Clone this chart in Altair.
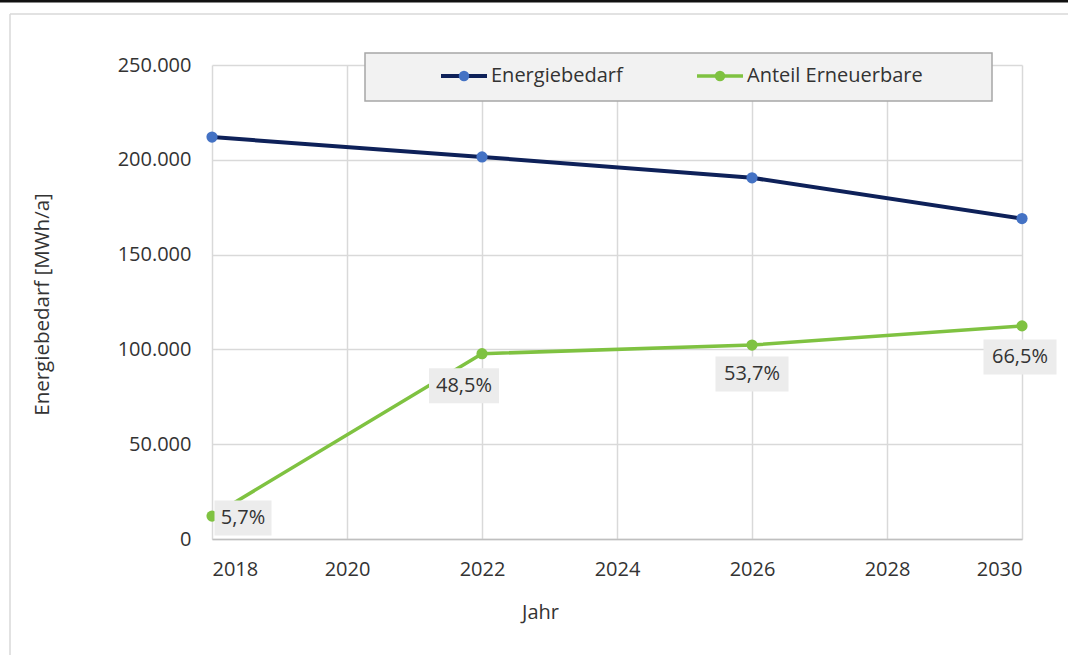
import altair as alt
import pandas as pd

# --- data -------------------------------------------------------------
years = [2018, 2022, 2026, 2030]
energiebedarf = [212000, 201500, 190500, 169000]       # MWh/a
anteil_prozent = [5.7, 48.5, 53.7, 66.5]               # share of renewables in %

series_names = ["Energiebedarf", "Anteil Erneuerbare"]
line_colors = ["#0e2159", "#7fc241"]
marker_colors = ["#4472c4", "#7fc241"]

y_ticks = [0, 50000, 100000, 150000, 200000, 250000]
x_ticks = [2018, 2020, 2022, 2024, 2026, 2028, 2030]

# renewable energy in MWh/a follows from demand and share
anteil_mwh = [b * p / 100 for b, p in zip(energiebedarf, anteil_prozent)]
anteil_text = [f"{p:.1f}".replace(".", ",") + "%" for p in anteil_prozent]

df = pd.DataFrame({
    "Jahr": years * 2,
    "Wert": energiebedarf + anteil_mwh,
    "Reihe": [series_names[0]] * len(years) + [series_names[1]] * len(years),
})
labels = pd.DataFrame({"Jahr": years, "Wert": anteil_mwh, "Label": anteil_text})

FONT = "Open Sans"
FS = 20
TEXT_COLOR = "#333333"
GRID = "#d9d9d9"
W, H = 810, 474

x_enc = alt.X(
    "Jahr:Q",
    scale=alt.Scale(domain=[2018, 2030], nice=False, zero=False),
    axis=alt.Axis(
        values=x_ticks, format="d", title="Jahr",
        grid=True, gridColor=GRID, gridWidth=1.5,
        domain=True, domainColor="#bfbfbf", domainWidth=1.5,
        ticks=False, tickSize=0, labelPadding=20,
        titleX=328, titleY=73, titleBaseline="middle", titleAlign="center",
    ),
)
y_enc = alt.Y(
    "Wert:Q",
    scale=alt.Scale(domain=[0, 250000], nice=False),
    axis=alt.Axis(
        values=y_ticks, title="Energiebedarf [MWh/a]",
        labelExpr="replace(format(datum.value, ',d'), ',', '.')",
        grid=True, gridColor=GRID, gridWidth=1.5,
        domain=False, ticks=False, tickSize=0, labelPadding=21,
        titleX=-170, titleY=H / 2 + 2, titleAngle=270, titleFontSize=20.5,
        titleBaseline="middle", titleAlign="center",
    ),
)

base = alt.Chart(df)
layers = []

# series lines and markers
for name, lc, mc, sw in zip(series_names, line_colors, marker_colors, [4, 3.5]):
    sub = base.transform_filter(alt.datum.Reihe == name)
    layers.append(sub.mark_line(color=lc, strokeWidth=sw).encode(x=x_enc, y=y_enc))
    layers.append(
        sub.mark_point(filled=True, color=mc, size=125, opacity=1, strokeWidth=0)
        .encode(x=x_enc, y=y_enc)
    )

# data labels with grey boxes (placement: dx, dy, box width)
placement = {2018: (31, 2, 57), 2022: (-18, 32, 70), 2026: (0, 29, 73), 2030: (-2, 31, 73)}
box_h = 35
lab_base = alt.Chart(labels)
for yr, (dx, dy, bw) in placement.items():
    sub = lab_base.transform_filter(alt.datum.Jahr == yr)
    k = box_h / bw
    shape = f"M-1,-{k:.4f}L1,-{k:.4f}L1,{k:.4f}L-1,{k:.4f}Z"
    layers.append(
        sub.mark_point(shape=shape, size=bw * bw, filled=True, color="#ececec",
                       opacity=1, strokeWidth=0, xOffset=dx, yOffset=dy)
        .encode(x=x_enc, y=y_enc)
    )
    layers.append(
        sub.mark_text(font=FONT, fontSize=FS, color=TEXT_COLOR, dx=dx, dy=dy,
                      align="center", baseline="middle")
        .encode(x=x_enc, y=y_enc, text="Label:N")
    )

# legend box at the top of the plot
one = pd.DataFrame({"k": [0]})
layers.append(
    alt.Chart(one).mark_rect(fill="#f2f2f2", stroke="#a6a6a6", strokeWidth=1.5)
    .encode(x=alt.value(153), x2=alt.value(780), y=alt.value(-12), y2=alt.value(36))
)
for name, lc, mc, sw, x0 in zip(series_names, line_colors, marker_colors, [4, 3.5], [229, 485]):
    layers.append(
        alt.Chart(one).mark_rule(color=lc, strokeWidth=sw)
        .encode(x=alt.value(x0), x2=alt.value(x0 + 46), y=alt.value(11))
    )
    layers.append(
        alt.Chart(one).mark_point(filled=True, color=mc, size=110, opacity=1, strokeWidth=0)
        .encode(x=alt.value(x0 + 23), y=alt.value(11))
    )
    layers.append(
        alt.Chart(one).mark_text(font=FONT, fontSize=FS, color=TEXT_COLOR,
                                 align="left", baseline="middle")
        .encode(x=alt.value(x0 + 50), y=alt.value(11), text=alt.value(name))
    )

# page frame: dark top rule and light chart border
layers.append(
    alt.Chart(one).mark_rule(color="#111111", strokeWidth=3)
    .encode(x=alt.value(-212), x2=alt.value(W + 60), y=alt.value(-64))
)
layers.append(
    alt.Chart(one).mark_rule(color=GRID, strokeWidth=1.5)
    .encode(x=alt.value(-202), x2=alt.value(W + 60), y=alt.value(-51))
)
layers.append(
    alt.Chart(one).mark_rule(color=GRID, strokeWidth=1.5)
    .encode(x=alt.value(-202), y=alt.value(-51), y2=alt.value(H + 130))
)

chart = (
    alt.layer(*layers)
    .properties(
        width=W, height=H,
        autosize=alt.AutoSizeParams(type="none"),
        padding={"left": 212, "top": 65, "right": 46, "bottom": 116},
        background="white",
    )
    .configure_view(stroke=None)
    .configure_axis(
        labelFont=FONT, labelFontSize=FS, labelColor=TEXT_COLOR,
        titleFont=FONT, titleFontSize=FS, titleColor=TEXT_COLOR, titleFontWeight="normal",
    )
)

chart.save("out.html", embed_options={"renderer": "svg", "actions": False})
